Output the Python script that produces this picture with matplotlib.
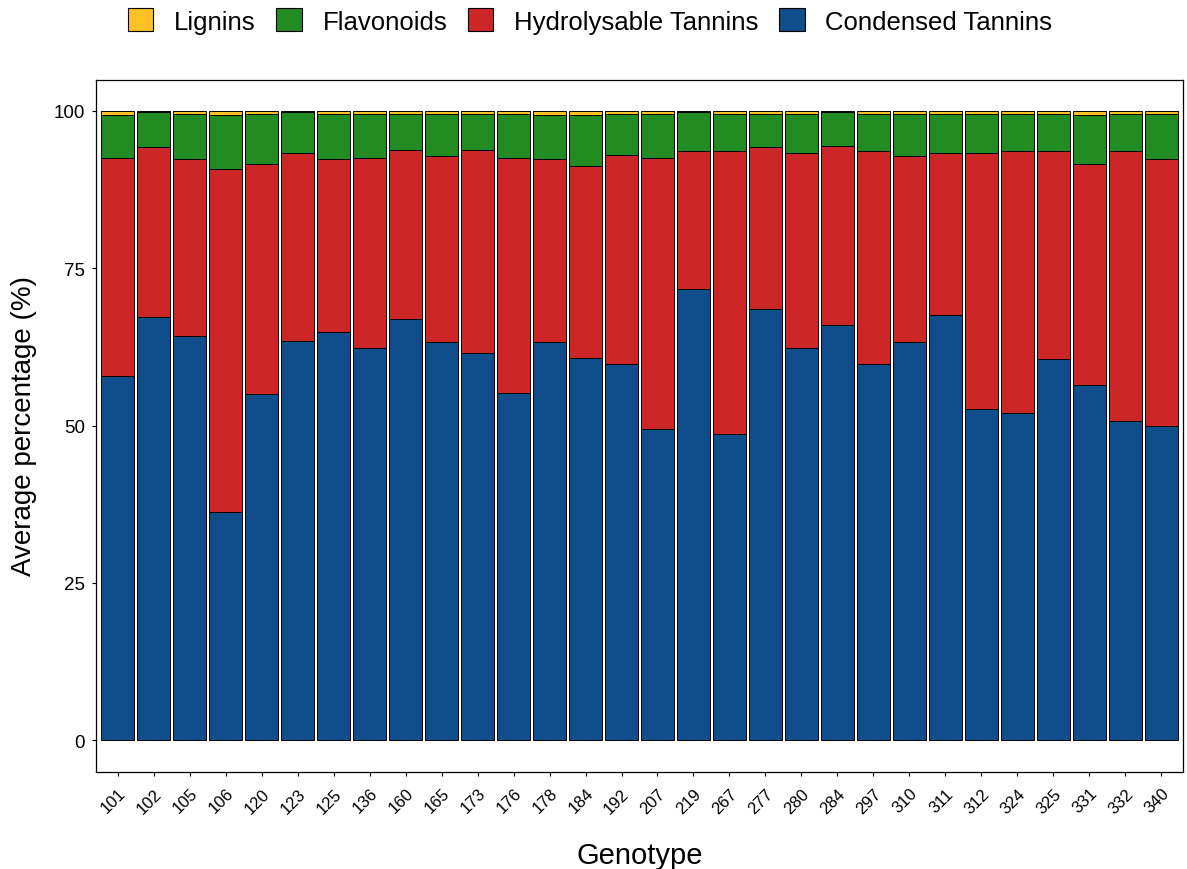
import matplotlib
matplotlib.use("Agg")
import matplotlib.pyplot as plt
from matplotlib.patches import Patch
import numpy as np

plt.rcParams['font.family'] = ['Liberation Sans', 'DejaVu Sans']

genotypes = ["101", "102", "105", "106", "120", "123", "125", "136", "160", "165",
             "173", "176", "178", "184", "192", "207", "219", "267", "277", "280",
             "284", "297", "310", "311", "312", "324", "325", "331", "332", "340"]

condensed = [57.8, 67.2, 64.2, 36.2, 55.0, 63.5, 64.8, 62.3, 67.0, 63.2,
             61.5, 55.2, 63.2, 60.7, 59.7, 49.4, 71.7, 48.7, 68.5, 62.3,
             66.0, 59.7, 63.3, 67.5, 52.7, 52.0, 60.5, 56.5, 50.7, 50.0]
hydrolysable = [34.7, 27.1, 28.1, 54.6, 36.5, 29.8, 27.5, 30.2, 26.8, 29.6,
                32.3, 37.3, 29.1, 30.6, 33.3, 43.1, 21.9, 44.9, 25.8, 31.0,
                28.5, 33.9, 29.5, 25.8, 40.6, 41.6, 33.1, 35.0, 42.9, 42.3]
flavonoids = [6.8, 5.5, 7.2, 8.5, 8.0, 6.5, 7.2, 7.0, 5.7, 6.7,
              5.7, 7.0, 7.0, 8.0, 6.5, 7.0, 6.2, 5.9, 5.2, 6.2,
              5.3, 5.9, 6.7, 6.2, 6.2, 5.9, 5.9, 7.8, 5.9, 7.2]
lignins = [0.7, 0.2, 0.5, 0.7, 0.5, 0.2, 0.5, 0.5, 0.5, 0.5,
           0.5, 0.5, 0.7, 0.7, 0.5, 0.5, 0.2, 0.5, 0.5, 0.5,
           0.2, 0.5, 0.5, 0.5, 0.5, 0.5, 0.5, 0.7, 0.5, 0.5]

series_names = ["Condensed Tannins", "Hydrolysable Tannins", "Flavonoids", "Lignins"]
series_vals = [condensed, hydrolysable, flavonoids, lignins]
colors = ["#104E8B", "#CD2626", "#228B22", "#FFC125"]

W, H = 1187, 870
fig = plt.figure(figsize=(W / 100, H / 100), dpi=100)
ax = fig.add_axes([96 / W, 1 - 772.5 / H, (1183 - 96) / W, (772.5 - 80.5) / H])

x = np.arange(len(genotypes))
bottom = np.zeros(len(genotypes))
for name, vals, c in zip(series_names, series_vals, colors):
    v = np.array(vals)
    ax.bar(x, v, bottom=bottom, width=0.9, color=c, edgecolor="black",
           linewidth=0.7, label=name)
    bottom += v

ax.set_xlim(-0.6, len(genotypes) - 0.4)
ax.set_ylim(-5, 105)
ax.set_yticks([0, 25, 50, 75, 100])
ax.set_xticks(x)
ax.set_xticklabels(genotypes, rotation=45, ha="right", va="top",
                   rotation_mode="anchor", fontsize=12)
ax.tick_params(axis="y", labelsize=13.5, length=3, width=0.8, pad=5, colors="black")
ax.tick_params(axis="x", length=3, width=0.8, pad=7, colors="black")
for s in ax.spines.values():
    s.set_linewidth(0.9)
    s.set_color("black")

ax.set_xlabel("Genotype", fontsize=21, labelpad=18)
ax.set_ylabel("Average percentage (%)", fontsize=20, labelpad=12)

handles = [Patch(facecolor=c, edgecolor="black", linewidth=0.8)
           for c in reversed(colors)]
labels = list(reversed(series_names))
fig.legend(handles, labels, loc="center", bbox_to_anchor=(590 / W, 1 - 22 / H),
           ncol=4, frameon=False, fontsize=18.5, handlelength=1.0,
           handleheight=1.0, handletextpad=0.8, columnspacing=0.8,
           borderaxespad=0)

fig.savefig("out.png", dpi=100)
